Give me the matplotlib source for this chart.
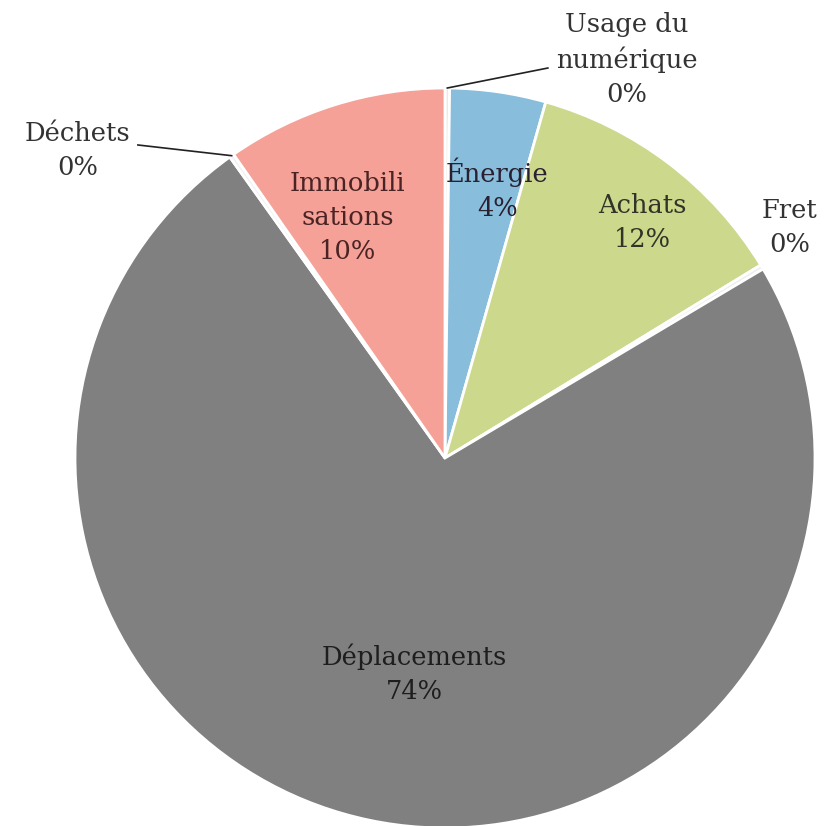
import numpy as np
import matplotlib.pyplot as plt

# Data
categories = ["Usage du\nnumérique", "Énergie", "Achats", "Fret",
              "Déplacements", "Déchets", "Immobili\nsations"]
values = [0.2, 4.2, 11.9, 0.2, 73.8, 0.2, 9.7]
pct_labels = ["0%", "4%", "12%", "0%", "74%", "0%", "10%"]

colors = ["#F3E6E6", "#88BDDC", "#CCD88B", "#EEEEEE", "#808080", "#F2F2F2", "#F5A197"]
text_colors = ["#333333", "#2a2030", "#333328", "#333333", "#1e1e1e", "#333333", "#4a2424"]

fig = plt.figure(figsize=(8.25, 8.26), dpi=100)
ax = fig.add_axes([0, 0, 1, 1])
ax.axis("off")

wedges, _ = ax.pie(values, startangle=90, counterclock=False, colors=colors,
                   radius=1, wedgeprops=dict(edgecolor="white", linewidth=2))

# place centre at (445, 458) px, radius 370 px
s = 370.0
ax.set_xlim(-445 / s, (825 - 445) / s)
ax.set_ylim(-(826 - 458) / s, 458 / s)

font = dict(family="DejaVu Serif", fontsize=18.5, ha="center", va="center", linespacing=1.45)

# inside labels: radius and small angle shift per slice
inside = {1: (0.74, -2.7), 2: (0.83, -2.7), 4: (0.59, 3.8), 6: (0.70, 4.6)}
for i, (r, shift) in inside.items():
    w = wedges[i]
    mid = np.deg2rad((w.theta1 + w.theta2) / 2 + shift)
    ax.text(r * np.cos(mid), r * np.sin(mid), categories[i] + "\n" + pct_labels[i],
            color=text_colors[i], **font)

# outside labels with leader lines
outside = {0: ((0.492, 1.076), (0.278, 1.054)),
           5: ((-0.992, 0.832), (-0.830, 0.846)),
           3: ((0.932, 0.622), None)}
for i, (txt_xy, line_end) in outside.items():
    w = wedges[i]
    ax.text(txt_xy[0], txt_xy[1], categories[i] + "\n" + pct_labels[i],
            color=text_colors[i], **font)
    if line_end is not None:
        mid = np.deg2rad((w.theta1 + w.theta2) / 2)
        ax.plot([np.cos(mid), line_end[0]], [np.sin(mid), line_end[1]],
                color="#222222", lw=1.2, clip_on=False)

fig.savefig("out.png", dpi=100, facecolor="white")
